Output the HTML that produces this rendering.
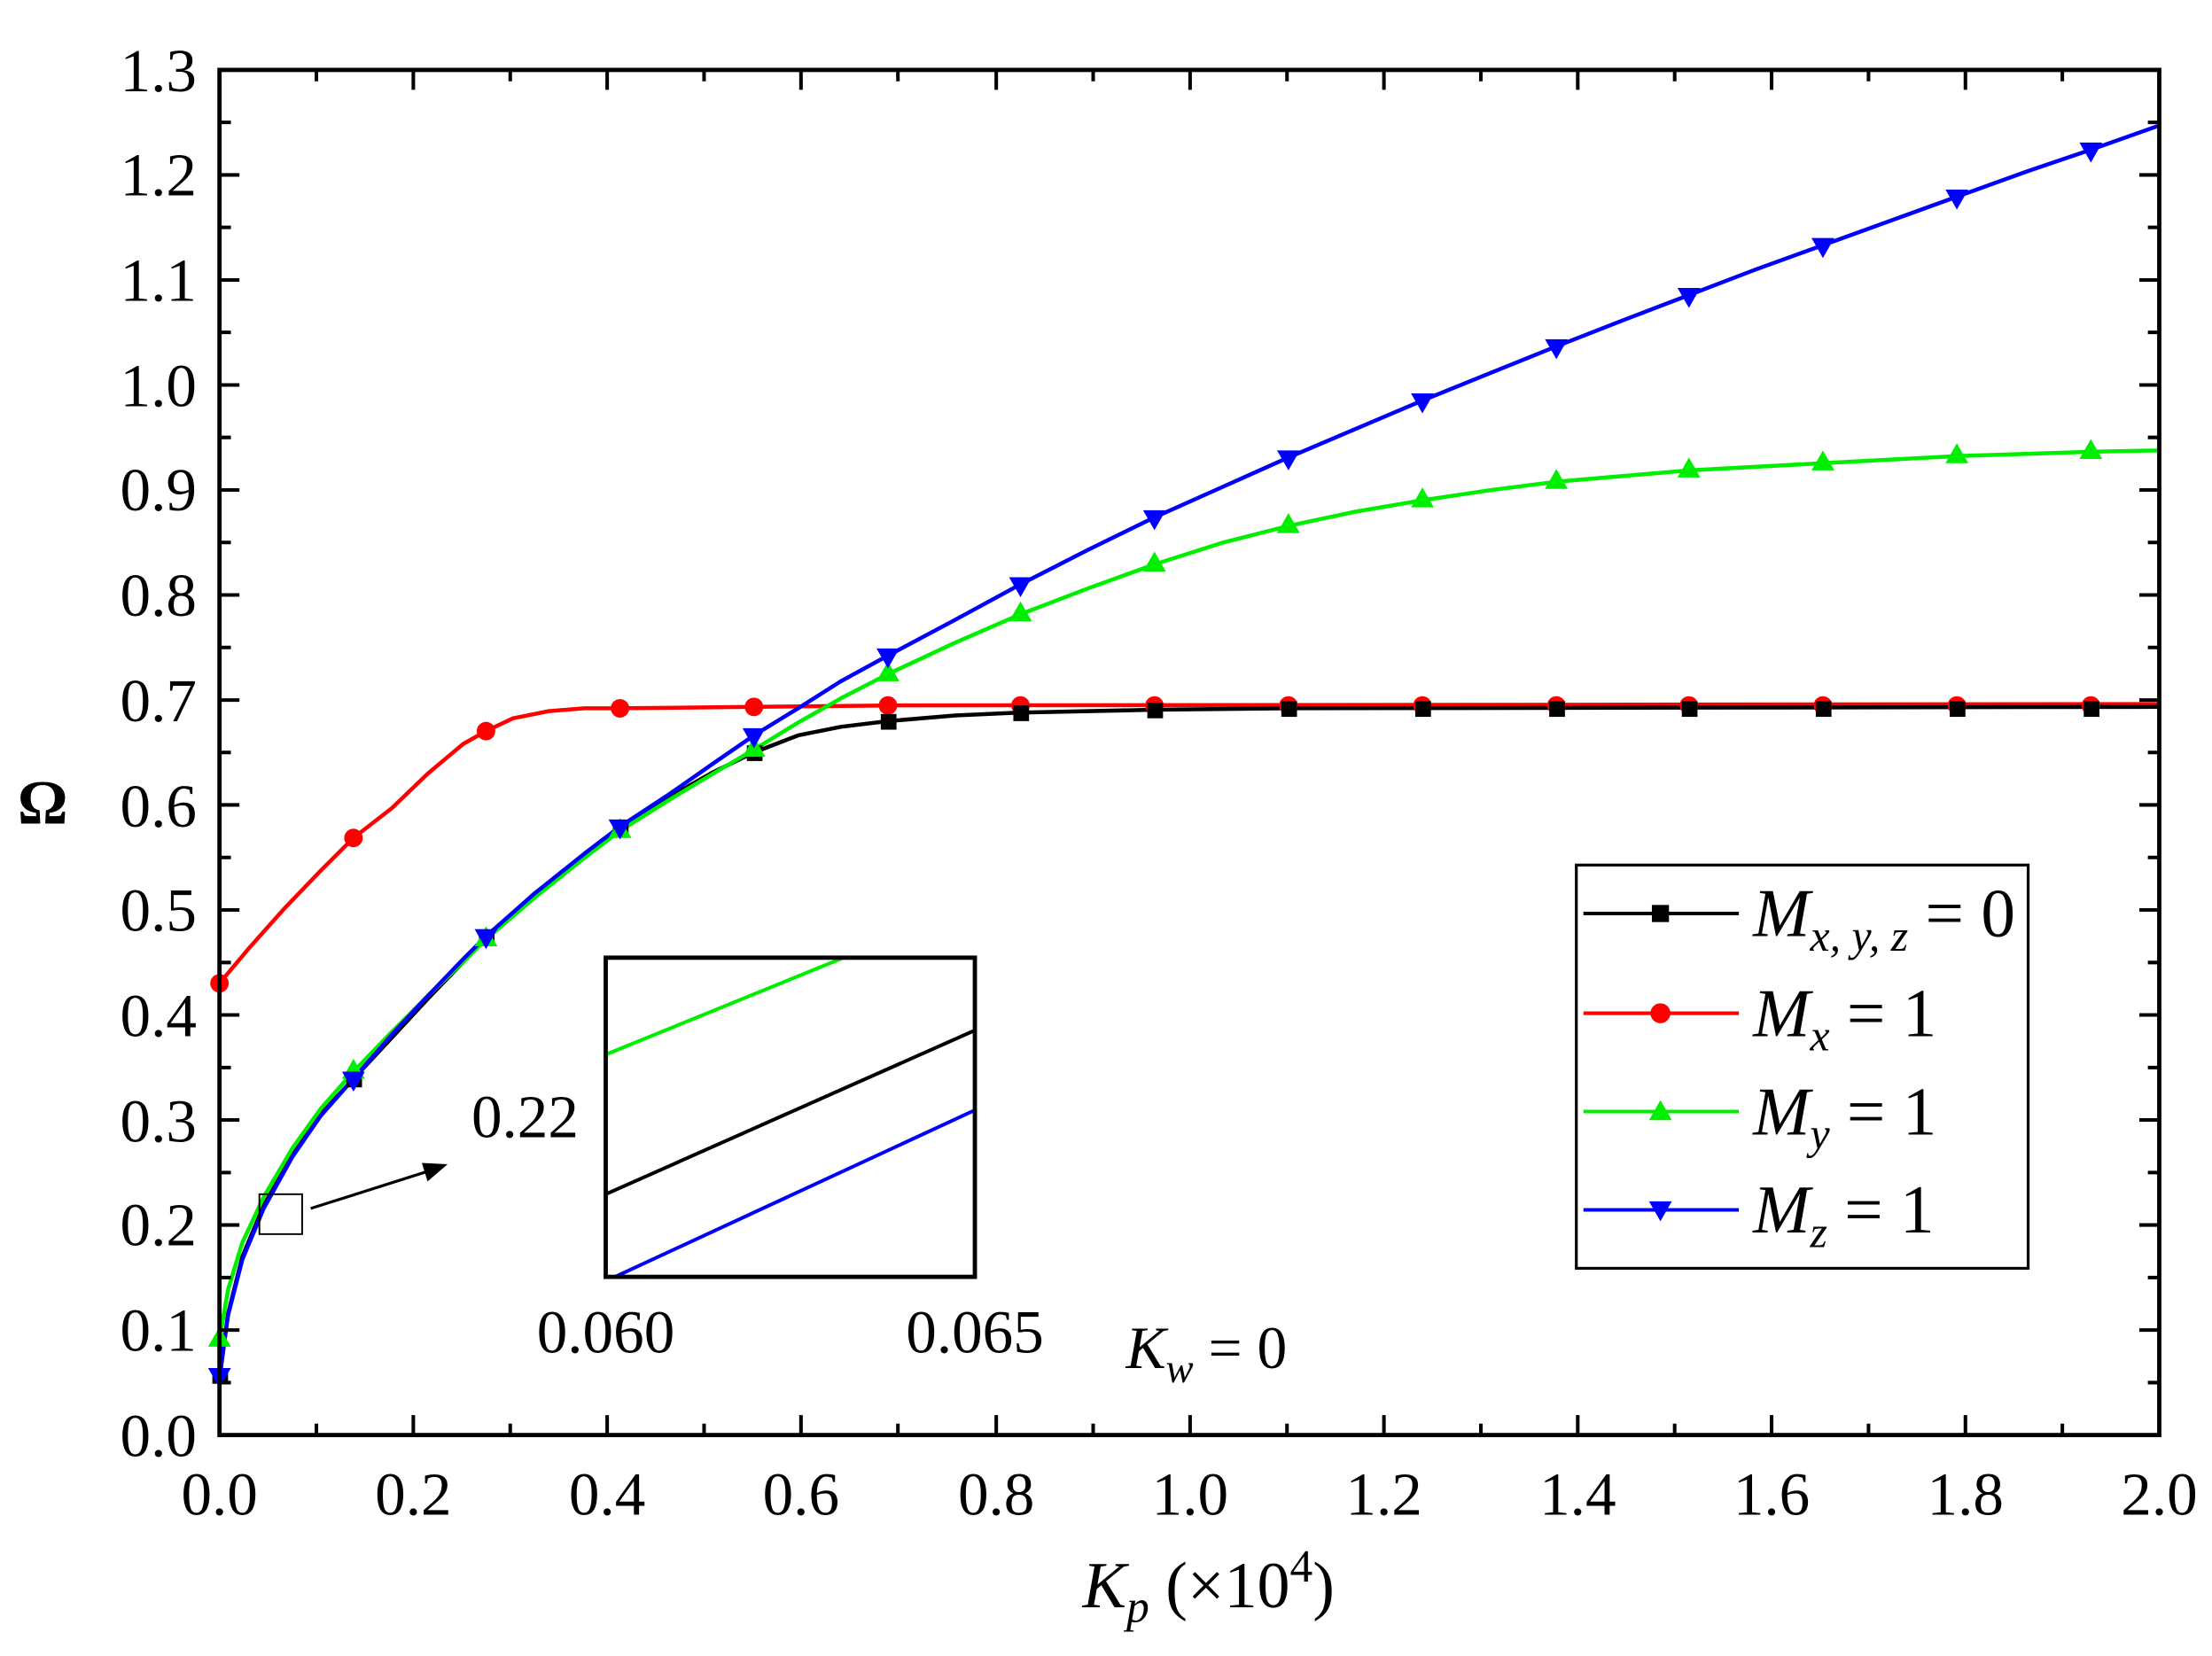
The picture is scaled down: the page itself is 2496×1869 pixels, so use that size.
<!DOCTYPE html>
<html><head><meta charset="utf-8"><style>
html,body{margin:0;padding:0;background:#fff}
svg{display:block}
text{font-family:"Liberation Serif","Times New Roman",serif;fill:#000}
</style></head><body>
<svg width="2496" height="1869" viewBox="0 0 1552 1162" xmlns="http://www.w3.org/2000/svg" font-family="Liberation Serif, Times New Roman, serif">
<defs>
<clipPath id="pc"><rect x="154" y="49" width="1361" height="958"/></clipPath>
<clipPath id="ic"><rect x="425" y="672" width="259" height="224"/></clipPath>
</defs>
<g clip-path="url(#pc)" fill="none" stroke-width="2.8" stroke-linejoin="round">
<polyline stroke="#ff0000" points="154,690 175,665 200,637 225,611 248,588 275,567 300,543 325,522 341,513 360,504 385,499 410,497 435,497 529,496 623,495 1515,494"/>
<polyline stroke="#000" points="154,968 160,922 170,882 185,846 205,811 225,782 248,757 275,728 300,701 325,675 341,658 375,627 410,600 435,581 470,559 500,542 529,528 560,516 590,510 623,506 670,502 716,500 810,498 904,497 1515,496"/>
<polyline stroke="#00ee00" points="154,940 160,905 170,872 185,840 205,806 225,778 248,752 275,724 300,699 325,675 341,659 375,630 410,602 435,583 470,561 500,543 529,526 560,507 590,490 623,473 670,451 716,431 763,413 810,396 857,381 904,369 951,359 998,351 1045,344 1092,338 1185,330 1279,325 1373,320 1467,317 1515,316"/>
<polyline stroke="#0000ff" points="154,965 160,923 170,884 185,848 205,812 225,783 248,757 275,726 300,699 325,673 341,657 375,627 410,599 435,580 470,557 500,536 529,516 560,497 590,478 623,460 670,435 716,410 763,386 810,363 857,342 904,321 951,301 998,281 1045,262 1092,243 1138,225 1185,207 1232,189 1279,172 1326,155 1373,138 1420,121 1467,105 1515,88"/>
</g>
<g fill="#ff0000">
<circle cx="154" cy="690" r="6.5"/><circle cx="248" cy="588" r="6.5"/><circle cx="341" cy="513" r="6.5"/><circle cx="435" cy="497" r="6.5"/><circle cx="529" cy="496" r="6.5"/><circle cx="623" cy="495" r="6.5"/><circle cx="716" cy="495" r="6.5"/><circle cx="810" cy="495" r="6.5"/><circle cx="904" cy="495" r="6.5"/><circle cx="998" cy="495" r="6.5"/><circle cx="1092" cy="495" r="6.5"/><circle cx="1185" cy="495" r="6.5"/><circle cx="1279" cy="495" r="6.5"/><circle cx="1373" cy="495" r="6.5"/><circle cx="1467" cy="495" r="6.5"/>
</g>
<g fill="#000">
<rect x="149" y="960" width="11" height="11"/><rect x="243" y="752" width="11" height="11"/><rect x="336" y="653" width="11" height="11"/><rect x="430" y="576" width="11" height="11"/><rect x="524" y="523" width="11" height="11"/><rect x="618" y="501" width="11" height="11"/><rect x="711" y="495" width="11" height="11"/><rect x="805" y="493" width="11" height="11"/><rect x="899" y="492" width="11" height="11"/><rect x="993" y="492" width="11" height="11"/><rect x="1087" y="492" width="11" height="11"/><rect x="1180" y="492" width="11" height="11"/><rect x="1274" y="492" width="11" height="11"/><rect x="1368" y="492" width="11" height="11"/><rect x="1462" y="492" width="11" height="11"/>
</g>
<g fill="#00ee00">
<polygon points="154,931 146,945 162,945"/><polygon points="248,743 240,757 256,757"/><polygon points="341,650 333,664 349,664"/><polygon points="435,574 427,588 443,588"/><polygon points="529,517 521,531 537,531"/><polygon points="623,464 615,478 631,478"/><polygon points="716,422 708,436 724,436"/><polygon points="810,387 802,401 818,401"/><polygon points="904,360 896,374 912,374"/><polygon points="998,342 990,356 1006,356"/><polygon points="1092,329 1084,343 1100,343"/><polygon points="1185,321 1177,335 1193,335"/><polygon points="1279,316 1271,330 1287,330"/><polygon points="1373,311 1365,325 1381,325"/><polygon points="1467,308 1459,322 1475,322"/>
</g>
<g fill="#0000ff">
<polygon points="154,974 146,960 162,960"/><polygon points="248,766 240,752 256,752"/><polygon points="341,666 333,652 349,652"/><polygon points="435,589 427,575 443,575"/><polygon points="529,525 521,511 537,511"/><polygon points="623,469 615,455 631,455"/><polygon points="716,419 708,405 724,405"/><polygon points="810,372 802,358 818,358"/><polygon points="904,330 896,316 912,316"/><polygon points="998,290 990,276 1006,276"/><polygon points="1092,252 1084,238 1100,238"/><polygon points="1185,216 1177,202 1193,202"/><polygon points="1279,181 1271,167 1287,167"/><polygon points="1373,147 1365,133 1381,133"/><polygon points="1467,114 1459,100 1475,100"/>
</g>
<rect x="154" y="49" width="1361" height="958" fill="none" stroke="#000" stroke-width="3"/>
<g stroke="#000" stroke-width="2.5">
<path d="M154,1007v-14M290,1007v-14M426,1007v-14M562,1007v-14M699,1007v-14M835,1007v-14M971,1007v-14M1107,1007v-14M1243,1007v-14M1379,1007v-14M1515,1007v-14
M222,1007v-8M358,1007v-8M494,1007v-8M630,1007v-8M767,1007v-8M903,1007v-8M1039,1007v-8M1175,1007v-8M1311,1007v-8M1447,1007v-8
M154,49v14M290,49v14M426,49v14M562,49v14M699,49v14M835,49v14M971,49v14M1107,49v14M1243,49v14M1379,49v14M1515,49v14
M222,49v8M358,49v8M494,49v8M630,49v8M767,49v8M903,49v8M1039,49v8M1175,49v8M1311,49v8M1447,49v8"/>
<path d="M154,1007h14M154,933.3h14M154,859.6h14M154,785.9h14M154,712.2h14M154,638.5h14M154,564.8h14M154,491.2h14M154,417.5h14M154,343.8h14M154,270.1h14M154,196.4h14M154,122.7h14M154,49h14
M154,970.2h8M154,896.5h8M154,822.8h8M154,749.1h8M154,675.4h8M154,601.7h8M154,528h8M154,454.3h8M154,380.6h8M154,306.9h8M154,233.2h8M154,159.5h8M154,85.8h8
M1515,1007h-14M1515,933.3h-14M1515,859.6h-14M1515,785.9h-14M1515,712.2h-14M1515,638.5h-14M1515,564.8h-14M1515,491.2h-14M1515,417.5h-14M1515,343.8h-14M1515,270.1h-14M1515,196.4h-14M1515,122.7h-14M1515,49h-14
M1515,970.2h-8M1515,896.5h-8M1515,822.8h-8M1515,749.1h-8M1515,675.4h-8M1515,601.7h-8M1515,528h-8M1515,454.3h-8M1515,380.6h-8M1515,306.9h-8M1515,233.2h-8M1515,159.5h-8M1515,85.8h-8"/>
</g>
<g font-size="43" text-anchor="end">
<text x="138" y="1022">0.0</text><text x="138" y="948">0.1</text><text x="138" y="874">0.2</text><text x="138" y="801">0.3</text><text x="138" y="727">0.4</text><text x="138" y="653">0.5</text><text x="138" y="580">0.6</text><text x="138" y="506">0.7</text><text x="138" y="432">0.8</text><text x="138" y="358">0.9</text><text x="138" y="285">1.0</text><text x="138" y="211">1.1</text><text x="138" y="137">1.2</text><text x="138" y="64">1.3</text>
</g>
<g font-size="43" text-anchor="middle">
<text x="154" y="1063">0.0</text><text x="290" y="1063">0.2</text><text x="426" y="1063">0.4</text><text x="562" y="1063">0.6</text><text x="699" y="1063">0.8</text><text x="835" y="1063">1.0</text><text x="971" y="1063">1.2</text><text x="1107" y="1063">1.4</text><text x="1243" y="1063">1.6</text><text x="1379" y="1063">1.8</text><text x="1515" y="1063">2.0</text>
</g>
<text x="848" y="1128" font-size="46" text-anchor="middle"><tspan font-style="italic">K</tspan><tspan font-style="italic" font-size="32" dy="10">p</tspan><tspan dy="-10"> (×10</tspan><tspan font-size="32" dy="-18">4</tspan><tspan dy="18">)</tspan></text>
<text x="30" y="578" font-size="44" font-weight="bold" text-anchor="middle">Ω</text>
<g clip-path="url(#ic)" fill="none" stroke-width="2.5">
<line x1="425" y1="740" x2="690" y2="632" stroke="#00ee00"/>
<line x1="425" y1="838" x2="684" y2="723" stroke="#000"/>
<line x1="425" y1="899" x2="684" y2="779" stroke="#0000ff"/>
</g>
<rect x="425" y="672" width="259" height="224" fill="none" stroke="#000" stroke-width="3"/>
<text x="406" y="798" font-size="43" text-anchor="end">0.22</text>
<text x="425" y="949" font-size="43" text-anchor="middle">0.060</text>
<text x="684" y="949" font-size="43" text-anchor="middle">0.065</text>
<rect x="182" y="838" width="30" height="28" fill="none" stroke="#000" stroke-width="1.2"/>
<line x1="218" y1="848" x2="300" y2="822" stroke="#000" stroke-width="2"/>
<polygon points="314,817 296,816 300,829" fill="#000"/>
<text x="790" y="960" font-size="42"><tspan font-style="italic">K</tspan><tspan font-style="italic" font-size="29" dy="10">w</tspan><tspan dy="-10"> = 0</tspan></text>
<rect x="1106" y="607" width="317" height="283" fill="#fff" stroke="#000" stroke-width="2"/>
<line x1="1111" y1="641" x2="1220" y2="641" stroke="#000" stroke-width="2.5"/>
<rect x="1159" y="635" width="12" height="12" fill="#000"/>
<line x1="1111" y1="711" x2="1220" y2="711" stroke="#ff0000" stroke-width="2.5"/>
<circle cx="1165" cy="711" r="7" fill="#ff0000"/>
<line x1="1111" y1="780" x2="1220" y2="780" stroke="#00ee00" stroke-width="2.5"/>
<polygon points="1165,772 1157,786 1173,786" fill="#00ee00"/>
<line x1="1111" y1="849" x2="1220" y2="849" stroke="#0000ff" stroke-width="2.5"/>
<polygon points="1165,857 1157,843 1173,843" fill="#0000ff"/>
<g font-size="48">
<text x="1230" y="657"><tspan font-style="italic">M</tspan><tspan font-style="italic" font-size="31" dy="10">x, y, z</tspan><tspan dy="-10"> = 0</tspan></text>
<text x="1230" y="727"><tspan font-style="italic">M</tspan><tspan font-style="italic" font-size="31" dy="10">x</tspan><tspan dy="-10"> = 1</tspan></text>
<text x="1230" y="796"><tspan font-style="italic">M</tspan><tspan font-style="italic" font-size="31" dy="10">y</tspan><tspan dy="-10"> = 1</tspan></text>
<text x="1230" y="865"><tspan font-style="italic">M</tspan><tspan font-style="italic" font-size="31" dy="10">z</tspan><tspan dy="-10"> = 1</tspan></text>
</g>
</svg>
</body></html>
